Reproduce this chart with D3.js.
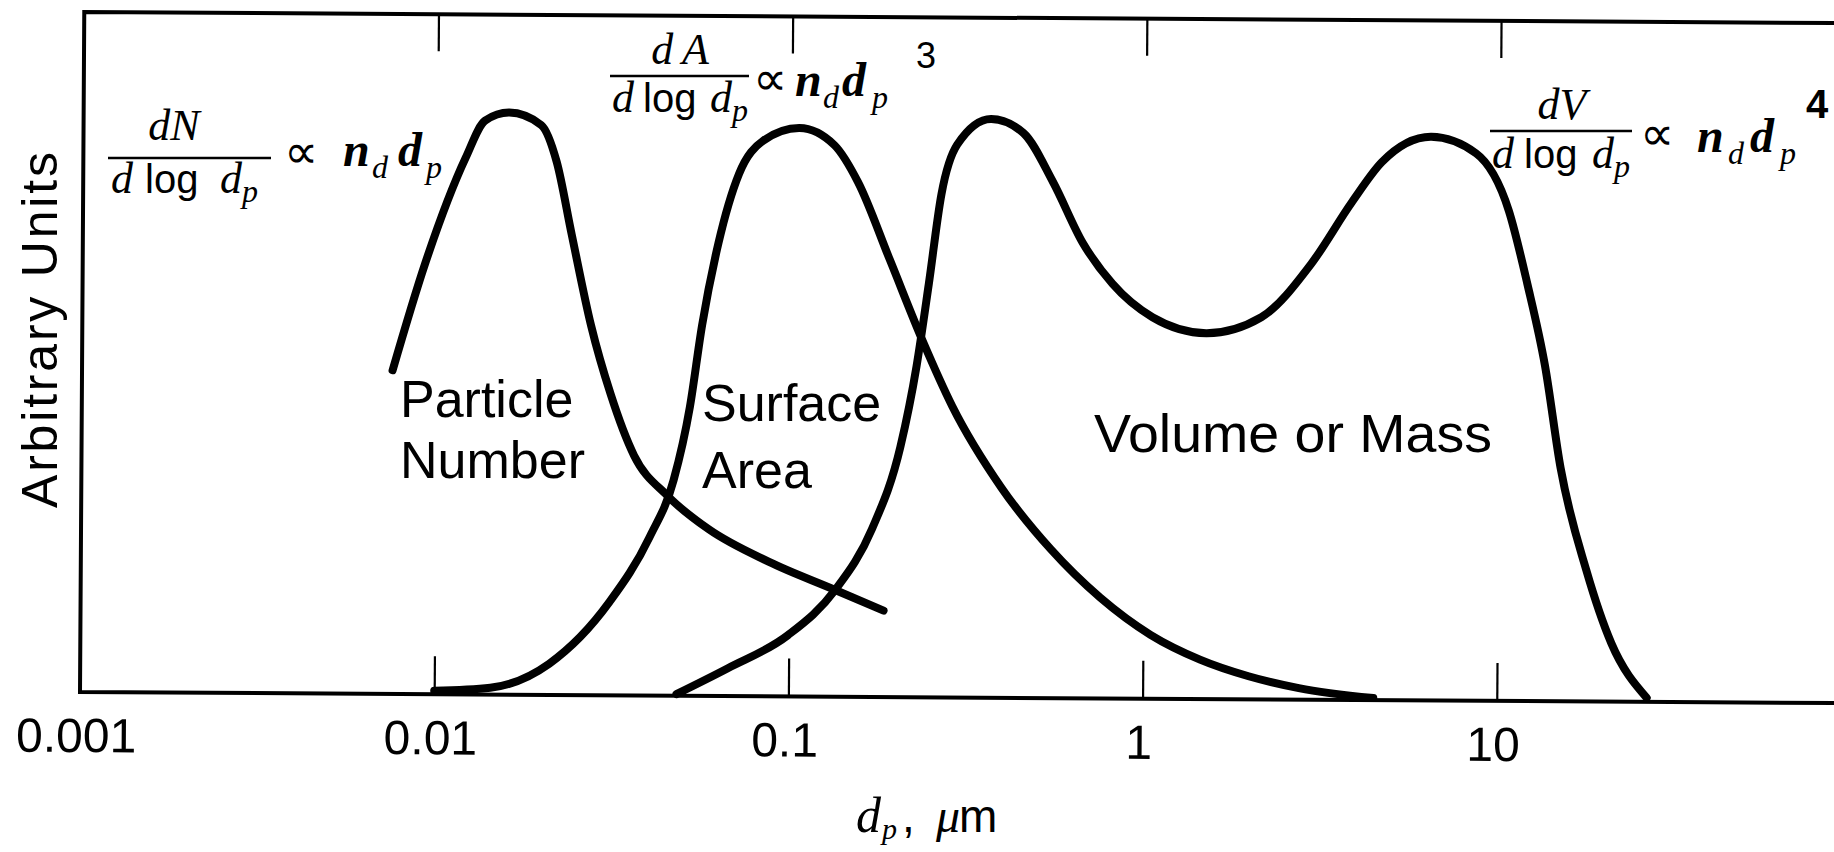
<!DOCTYPE html>
<html><head><meta charset="utf-8">
<script src="https://cdn.jsdelivr.net/npm/d3@7"></script>
<style>html,body{margin:0;padding:0;background:#fff;overflow:hidden} svg{display:block}</style>
</head><body>
<svg id="c" width="1834" height="852"></svg>
<script>
// ---- data ----
const tickValues = [0.001, 0.01, 0.1, 1, 10];
const tickLabels = ["0.001", "0.01", "0.1", "1", "10"];
const topTickValues = [0.01, 0.1, 1, 10];

const particleDp  = [0.00753, 0.00926, 0.0120, 0.0136, 0.0159, 0.0196, 0.0217, 0.0240, 0.0273, 0.0311, 0.0363, 0.0452, 0.0592, 0.0874, 0.135, 0.185];
const particleVal = [47.6, 63.3, 78.9, 84.4, 85.6, 83.8, 78.4, 67.7, 54.4, 44.3, 35.3, 29.4, 24.5, 19.8, 15.7, 12.7];

const surfaceDp  = [0.0100, 0.0144, 0.0211, 0.0311, 0.0403, 0.0470, 0.0521, 0.0562, 0.0623, 0.0710, 0.0830, 0.105, 0.132, 0.154, 0.190, 0.236, 0.287, 0.396, 0.547, 0.757, 1.05, 1.45, 1.99, 2.76, 4.48];
const surfaceVal = [0.5, 1.0, 4.6, 13.7, 23.3, 31.7, 42.5, 54.5, 66.6, 76.8, 81.7, 83.6, 81.1, 75.7, 64.3, 52.4, 42.8, 30.9, 21.9, 14.8, 9.4, 5.8, 3.4, 1.7, 0.3];

const volumeDp  = [0.0483, 0.0674, 0.0994, 0.135, 0.171, 0.205, 0.227, 0.245, 0.265, 0.293, 0.365, 0.450, 0.547, 0.665, 0.808, 1.05, 1.49, 2.13, 2.94, 3.82, 4.63, 6.38, 8.55, 10.6, 12.0, 13.5, 15.0, 17.8, 21.0, 26.5];
const volumeVal = [0.25, 4.1, 9.0, 15.7, 24.7, 36.8, 48.7, 60.8, 74.0, 81.3, 85.1, 83.1, 75.9, 67.0, 61.0, 56.1, 53.8, 56.2, 64.1, 73.2, 79.1, 82.9, 80.5, 72.1, 61.3, 49.3, 34.3, 19.3, 8.6, 0.6];

const seriesLabels = [["Particle", "Number"], ["Surface", "Area"], ["Volume or Mass"]];
const yAxisTitle = "Arbitrary Units";

// ---- scales ----
const x = d3.scaleLog().domain([0.001, 100]).range([80, 80 + 5 * 354.2]);
const y = d3.scaleLinear().domain([0, 100]).range([692, 12]);

const svg = d3.select("#c");
const sans = "'Liberation Sans', Arial, Helvetica, sans-serif";
const serif = "'Liberation Serif', 'Times New Roman', serif";

// whole scanned plot is slightly rotated
const g = svg.append("g").attr("transform", "rotate(0.36,80,692)");

// frame (left, top, bottom)
const xr = x.range()[1];
g.append("path")
  .attr("d", `M${xr},${y(100)}H${x(0.001)}V${y(0)}H${xr}`)
  .attr("fill", "none").attr("stroke", "#000").attr("stroke-width", 4)
  .attr("stroke-linejoin", "miter");

// bottom axis: inward ticks + labels
const ax = g.append("g").attr("transform", `translate(0,${y(0)})`)
  .call(d3.axisBottom(x).tickValues(tickValues)
    .tickFormat((d, i) => tickLabels[i]).tickSizeInner(-38).tickSizeOuter(0).tickPadding(26));
ax.select(".domain").remove();
ax.selectAll(".tick line").attr("stroke", "#000").attr("stroke-width", 2.2)
  .filter(d => d === 0.001).remove();
ax.selectAll(".tick text").attr("font-family", sans).attr("font-size", 48)
  .attr("fill", "#000").attr("dx", -4);

// top axis: inward ticks
const at = g.append("g").attr("transform", `translate(0,${y(100)})`)
  .call(d3.axisTop(x).tickValues(topTickValues).tickFormat("").tickSizeInner(-37).tickSizeOuter(0));
at.select(".domain").remove();
at.selectAll(".tick line").attr("stroke", "#000").attr("stroke-width", 2.2);

// curves
const line = d3.line().x(d => x(d[0])).y(d => y(d[1])).curve(d3.curveMonotoneX);
[[particleDp, particleVal], [surfaceDp, surfaceVal], [volumeDp, volumeVal]].forEach(([xs, ys]) => {
  g.append("path").datum(xs.map((v, i) => [v, ys[i]]))
    .attr("d", line).attr("fill", "none").attr("stroke", "#000")
    .attr("stroke-width", 8).attr("stroke-linecap", "round").attr("stroke-linejoin", "round");
});

// ---- annotations ----
const ann = svg.append("g").attr("fill", "#000");

// series labels
function label(lines, xp, yp, dy, size, len) {
  lines.forEach((t, i) => {
    const tx = ann.append("text").attr("x", xp).attr("y", yp + i * dy)
      .attr("font-family", sans).attr("font-size", size).text(t);
    if (len) tx.attr("textLength", len).attr("lengthAdjust", "spacingAndGlyphs");
  });
}
label(seriesLabels[0], 400, 417, 61, 52);
label(seriesLabels[1], 702, 421, 67, 52);
label(seriesLabels[2], 1094, 452, 0, 54, 398);

// y axis title
ann.append("text").attr("transform", "translate(57,330) rotate(-90)")
  .attr("text-anchor", "middle").attr("font-family", sans).attr("font-size", 50)
  .attr("textLength", 356).attr("lengthAdjust", "spacing").text(yAxisTitle);

// x axis title  d_p, μm
const xt = ann.append("text").attr("y", 832).attr("font-size", 46);
xt.append("tspan").attr("x", 856).attr("font-family", serif).attr("font-style", "italic").attr("font-size", 50).text("d");
xt.append("tspan").attr("x", 882).attr("font-family", serif).attr("font-style", "italic").attr("font-size", 30).attr("dy", 7).text("p");
xt.append("tspan").attr("x", 902).attr("font-family", sans).attr("dy", -7).text(",");
xt.append("tspan").attr("x", 936).attr("font-family", serif).attr("font-style", "italic").attr("font-size", 48).text("\u03BC");
xt.append("tspan").attr("x", 959).attr("font-family", sans).text("m");

// formula helper
function formula(o) {
  const f = ann.append("g");
  f.append("text").attr("x", o.numX).attr("y", o.numY).attr("text-anchor", "middle")
    .attr("font-family", serif).attr("font-style", "italic").attr("font-size", 44).text(o.num);
  f.append("line").attr("x1", o.l1).attr("x2", o.l2).attr("y1", o.lY).attr("y2", o.lY)
    .attr("stroke", "#000").attr("stroke-width", 2.5);
  const dn = f.append("text").attr("y", o.denY).attr("font-size", 44);
  dn.append("tspan").attr("x", o.den[0]).attr("font-family", serif).attr("font-style", "italic").text("d");
  dn.append("tspan").attr("x", o.den[1]).attr("font-family", sans).attr("font-size", 40).text("log");
  dn.append("tspan").attr("x", o.den[2]).attr("font-family", serif).attr("font-style", "italic").text("d");
  dn.append("tspan").attr("x", o.den[3]).attr("dy", 9).attr("font-family", serif).attr("font-style", "italic").attr("font-size", 32).text("p");
  f.append("text").attr("x", o.propX).attr("y", o.propY).attr("font-family", serif).attr("font-size", 48).text("\u221D");
  const r = f.append("text").attr("y", o.rY).attr("font-family", serif).attr("font-style", "italic").attr("font-weight", "bold").attr("font-size", 48);
  r.append("tspan").attr("x", o.r[0]).text("n");
  r.append("tspan").attr("x", o.r[1]).attr("dy", 12).attr("font-size", 32).attr("font-weight", "normal").text("d");
  r.append("tspan").attr("x", o.r[2]).attr("dy", -12).text("d");
  r.append("tspan").attr("x", o.r[3]).attr("dy", 12).attr("font-size", 32).attr("font-weight", "normal").text("p");
  if (o.exp) f.append("text").attr("x", o.expX).attr("y", o.expY).attr("font-family", sans)
    .attr("font-weight", o.expBold ? "bold" : "normal").attr("font-size", o.expSize || 36).text(o.exp);
}
formula({num: "dN", numX: 174, numY: 140, l1: 108, l2: 271, lY: 158, denY: 193, den: [111, 145, 220, 242],
  propX: 284, propY: 168, rY: 166, r: [343, 372, 398, 426]});
formula({num: "d\u2009A", numX: 680, numY: 64, l1: 610, l2: 749, lY: 76, denY: 112, den: [612, 643, 710, 732],
  propX: 753, propY: 95, rY: 96, r: [795, 823, 842, 872], exp: "3", expX: 916, expY: 68});
formula({num: "dV", numX: 1562, numY: 119, l1: 1490, l2: 1632, lY: 131, denY: 168, den: [1492, 1524, 1592, 1614],
  propX: 1640, propY: 150, rY: 152, r: [1697, 1728, 1750, 1780], exp: "4", expX: 1806, expY: 118, expBold: true, expSize: 40});
</script>
</body></html>
